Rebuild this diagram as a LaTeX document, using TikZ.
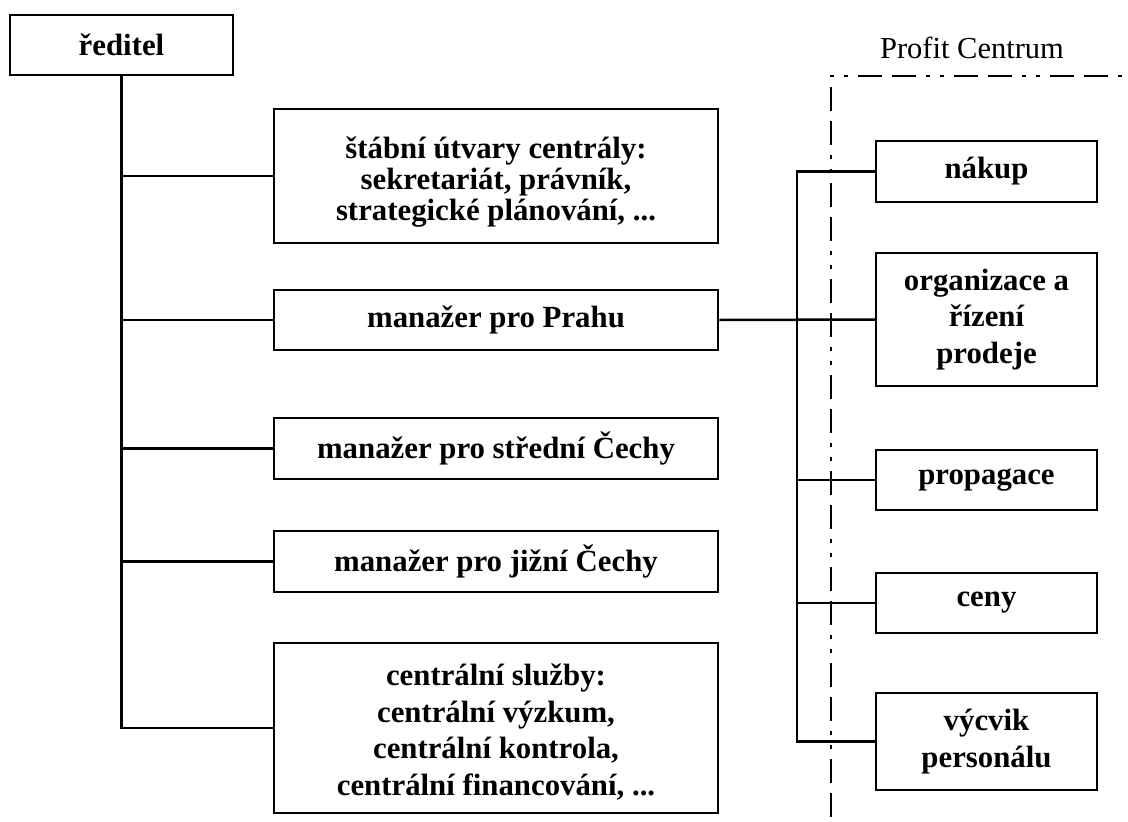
\documentclass[tikz,border=0pt]{standalone}
\usepackage{fontspec}
\setmainfont{Liberation Serif}
\begin{document}
\begin{tikzpicture}[x=1pt,y=-1pt,
  box/.style={draw, line width=2.5pt, inner sep=0pt, align=center,
    font=\bfseries\fontsize{30.8}{36.7}\selectfont},
  wide/.style={box, minimum width=444pt},
  rbox/.style={box, minimum width=221pt},
  label/.style={inner sep=0pt, align=center},
  conn/.style={line width=2.5pt},
  pcline/.style={line width=2.5pt, dash pattern=on 24pt off 10pt on 24pt off 10pt on 4pt off 10pt on 4pt off 10pt}]
\useasboundingbox (0,0) rectangle (1128,822);
% left column
\node[box, minimum width=223pt, minimum height=60pt] (red) at (121.5,45) {ředitel};
\node[wide, minimum height=134pt] (stab) at (496,176) {};
\node[label, font=\bfseries\fontsize{30.8}{30.8}\selectfont] (stabt) at (496,182) {štábní útvary centrály:\\sekretariát, právník,\\strategické plánování, ...};
\node[wide, minimum height=60pt] (praha) at (496,320) {manažer pro Prahu};
\node[wide, minimum height=61pt] (stred) at (496,448.5) {manažer pro střední Čechy};
\node[wide, minimum height=61pt] (jizni) at (496,561.5) {manažer pro jižní Čechy};
\node[wide, minimum height=170pt] (cent) at (496,728) {};
\node[label, font=\bfseries\fontsize{30.8}{36.7}\selectfont] (centt) at (496,732) {centrální služby:\\centrální výzkum,\\centrální kontrola,\\centrální financování, ...};
% right column
\node[rbox, minimum height=61pt] (nakup) at (986.5,171.5) {nákup};
\node[rbox, minimum height=133pt] (org) at (986.5,319.5) {organizace a\\řízení\\prodeje};
\node[rbox, minimum height=60pt] (prop) at (986.5,480) {propagace};
\node[rbox, minimum height=60pt] (ceny) at (986.5,603) {ceny};
\node[rbox, minimum height=97pt] (vycvik) at (986.5,741.5) {výcvik\\personálu};
% profit centre
\node[font=\fontsize{30.5}{36}\selectfont, inner sep=0pt] (pclabel) at (972,48) {Profit Centrum};
\coordinate (pc1) at (831,817);
\coordinate (pc2) at (831,76);
\coordinate (pc3) at (1128,76);
\draw[pcline] (pc1) -- (pc2) -- (pc3);
% left connectors
\draw[conn] (red.south) -- (red.south |- cent.west) -- (cent.west);
\draw[conn] (stab.west) -- (stab.west -| red.south);
\draw[conn] (praha.west) -- (praha.west -| red.south);
\draw[conn] (stred.west) -- (stred.west -| red.south);
\draw[conn] (jizni.west) -- (jizni.west -| red.south);
% right connectors
\coordinate (rv) at (797,0);
\draw[conn] (praha.east) -- (org.west);
\draw[conn] (nakup.west) -- (nakup.west -| rv) -- (vycvik.west -| rv) -- (vycvik.west);
\draw[conn] (prop.west) -- (prop.west -| rv);
\draw[conn] (ceny.west) -- (ceny.west -| rv);
\end{tikzpicture}
\end{document}
